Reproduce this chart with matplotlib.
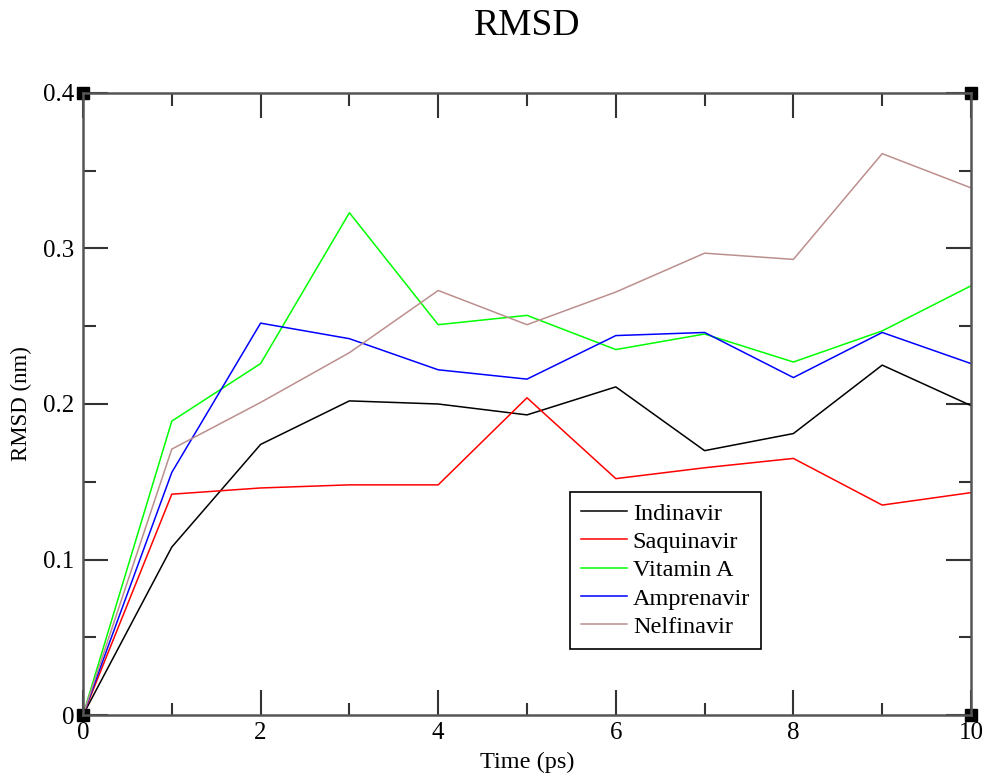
import numpy as np
import matplotlib
matplotlib.use('Agg')
import matplotlib.pyplot as plt
from matplotlib.ticker import MultipleLocator

plt.rcParams['font.family'] = ['Liberation Serif', 'DejaVu Serif']

time = [0, 1, 2, 3, 4, 5, 6, 7, 8, 9, 10]
indinavir = [0, 0.108, 0.174, 0.202, 0.200, 0.193, 0.211, 0.170, 0.181, 0.225, 0.199]
saquinavir = [0, 0.142, 0.146, 0.148, 0.148, 0.204, 0.152, 0.159, 0.165, 0.135, 0.143]
vitamin_a = [0, 0.189, 0.226, 0.323, 0.251, 0.257, 0.235, 0.245, 0.227, 0.247, 0.276]
amprenavir = [0, 0.156, 0.252, 0.242, 0.222, 0.216, 0.244, 0.246, 0.217, 0.246, 0.226]
nelfinavir = [0, 0.171, 0.201, 0.233, 0.273, 0.251, 0.272, 0.297, 0.293, 0.361, 0.339]

names = ['Indinavir', 'Saquinavir', 'Vitamin A', 'Amprenavir', 'Nelfinavir']
colors = ['black', 'red', '#00ff00', 'blue', '#bc8f8f']

fig = plt.figure(figsize=(9.87, 7.76), dpi=100)
ax = fig.add_axes([83/987, 1-715/776, 888/987, 622/776])

for y, n, c in zip([indinavir, saquinavir, vitamin_a, amprenavir, nelfinavir], names, colors):
    ax.plot(time, y, color=c, lw=1.1, label=n)

ax.set_xlim(0, 10)
ax.set_ylim(0, 0.4)
ax.set_xticks([0, 2, 4, 6, 8, 10])
ax.set_yticks([0, 0.1, 0.2, 0.3, 0.4])
ax.xaxis.set_minor_locator(MultipleLocator(1))
ax.yaxis.set_minor_locator(MultipleLocator(0.05))
ax.set_yticklabels(['0', '0.1', '0.2', '0.3', '0.4'])
ax.set_xticklabels(['0', '2', '4', '6', '8', '10'])

ax.tick_params(which='both', direction='in', top=True, right=True,
               color='#333333', labelsize=18)
ax.tick_params(axis='x', pad=5)
ax.tick_params(axis='y', pad=6)
ax.tick_params(which='major', length=18, width=1.5)
ax.tick_params(which='minor', length=9, width=1.5)
for s in ax.spines.values():
    s.set_color('#555555')
    s.set_linewidth(1.8)

ax.set_xlabel('Time (ps)', fontsize=17.5, labelpad=6)
ax.set_ylabel('RMSD (nm)', fontsize=16.5, labelpad=8)
ax.set_title('RMSD', fontsize=27, pad=42)

# corner squares
ax.plot([0, 1, 0, 1], [0, 0, 1, 1], 's', color='black', ms=8.5,
        transform=ax.transAxes, clip_on=False)

leg = ax.legend(loc='upper left', bbox_to_anchor=(0.548, 0.359), fontsize=17.5,
                fancybox=False, framealpha=1, edgecolor='black',
                handlelength=1.9, handletextpad=0.25, borderpad=0.45,
                labelspacing=0.26, borderaxespad=0)
leg.get_frame().set_linewidth(1.2)

fig.savefig('out.png', dpi=100)
